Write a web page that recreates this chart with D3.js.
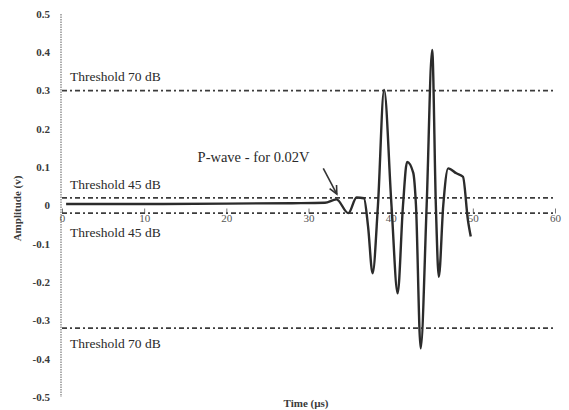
<!DOCTYPE html>
<html>
<head>
<meta charset="utf-8">
<script src="https://cdn.jsdelivr.net/npm/d3@7"></script>
<style>
  html, body { margin: 0; padding: 0; background: #fff; }
  svg { display: block; }
</style>
</head>
<body>
<script>
// Acoustic emission signal: amplitude (V) against time (µs)
const timeUs = [0.5, 10, 20, 28, 32, 33.4, 34.85, 35.85, 36.75, 37.25, 37.8, 38.45, 39.2, 40.1, 40.85, 41.5, 42.0, 42.75, 43.08, 43.65, 44.38, 45.05, 45.5, 45.86, 46.4, 47.0, 48.0, 48.8, 49.4, 49.75];
const amplitudeV = [0.004, 0.004, 0.005, 0.006, 0.007, 0.016, -0.02, 0.021, 0.019, -0.055, -0.177, 0.0, 0.302, 0.0, -0.229, 0.0, 0.114, 0.085, 0.0, -0.373, 0.0, 0.406, 0.0, -0.186, 0.0, 0.097, 0.084, 0.075, -0.038, -0.081];

// Detection thresholds (V)
const threshold70 = [0.3, -0.32];
const threshold45 = [0.02, -0.02];
const thresholdNames = ["Threshold 70 dB", "Threshold 45 dB"];

// Axis ticks
const xTicks = [0, 10, 20, 30, 40, 50, 60];
const yTicks = [0.5, 0.4, 0.3, 0.2, 0.1, 0, -0.1, -0.2, -0.3, -0.4, -0.5];
const yTickLabels = ["0.5", "0.4", "0.3", "0.2", "0.1", "0", "-0.1", "-0.2", "-0.3", "-0.4", "-0.5"];

// P-wave annotation (data coordinates: arrow start -> arrow tip)
const pWaveText = "P-wave - for 0.02V";
const pWaveArrow = [[31.8, 0.097], [33.45, 0.03]];

const W = 569, H = 410;
const svg = d3.select("body").append("svg").attr("width", W).attr("height", H);
svg.append("rect").attr("width", W).attr("height", H).attr("fill", "#fff");

const x = d3.scaleLinear().domain([0, 60]).range([62, 555]);
const y = d3.scaleLinear().domain([-0.5, 0.5]).range([397, 14]);

const serif = "'Liberation Serif', 'Times New Roman', serif";

// Y axis: dotted vertical rule with bold labels
svg.append("line")
  .attr("x1", x(0) - 1).attr("x2", x(0) - 1)
  .attr("y1", y(0.5)).attr("y2", y(-0.5))
  .attr("stroke", "#777").attr("stroke-width", 1.2)
  .attr("stroke-dasharray", "1.5,1");

svg.append("g").selectAll("text").data(yTicks).join("text")
  .attr("x", 50).attr("y", d => y(d))
  .attr("dy", "0.35em")
  .attr("text-anchor", "end")
  .attr("font-family", serif).attr("font-size", 11).attr("font-weight", "bold")
  .attr("fill", "#3a3a3a")
  .text((d, i) => yTickLabels[i]);

// X axis ticks and labels along zero
const xAxis = d3.axisBottom(x).tickValues(xTicks).tickSize(5).tickPadding(5).tickFormat(d3.format("d"));
const gx = svg.append("g").attr("transform", `translate(0,${y(0) + 7})`).call(xAxis);
gx.select(".domain").remove();
gx.selectAll(".tick line").attr("stroke", "#777").attr("transform", "translate(0,-4)");
gx.selectAll(".tick text")
  .attr("font-family", serif).attr("font-size", 11).attr("fill", "#555")
  .attr("dy", "-0.05em");

// Threshold lines (dash-dot)
const thresholdLines = [
  { v: threshold70[0], name: thresholdNames[0], above: true },
  { v: threshold70[1], name: thresholdNames[0], above: false },
  { v: threshold45[0], name: thresholdNames[1], above: true },
  { v: threshold45[1], name: thresholdNames[1], above: false }
];

svg.append("g").selectAll("line").data(thresholdLines).join("line")
  .attr("x1", x(0)).attr("x2", x(60))
  .attr("y1", d => y(d.v)).attr("y2", d => y(d.v))
  .attr("stroke", "#3c3c3c").attr("stroke-width", 1.8)
  .attr("stroke-dasharray", "5,3,2,3");

svg.append("g").selectAll("text").data(thresholdLines).join("text")
  .attr("x", x(0) + 8)
  .attr("y", d => y(d.v) + (d.above ? -14 : (d.v > -0.1 ? 19 : 15)))
  .attr("dy", "0.35em")
  .attr("font-family", serif).attr("font-size", 13.5)
  .attr("fill", "#2a2a2a")
  .text(d => d.name);

// Signal waveform
const line = d3.line()
  .x((d, i) => x(timeUs[i]))
  .y(d => y(d))
  .curve(d3.curveMonotoneX);

svg.append("path")
  .datum(amplitudeV)
  .attr("d", line)
  .attr("fill", "none")
  .attr("stroke", "#2b2b2b")
  .attr("stroke-width", 2.4)
  .attr("stroke-linejoin", "round");

// P-wave annotation
svg.append("text")
  .attr("x", x(16.5)).attr("y", y(0.127))
  .attr("dy", "0.35em")
  .attr("font-family", serif).attr("font-size", 14.5)
  .attr("fill", "#2a2a2a")
  .text(pWaveText);

const [a0, a1] = pWaveArrow.map(p => [x(p[0]), y(p[1])]);
svg.append("line")
  .attr("x1", a0[0]).attr("y1", a0[1]).attr("x2", a1[0]).attr("y2", a1[1])
  .attr("stroke", "#333").attr("stroke-width", 1.6);
const ang = Math.atan2(a1[1] - a0[1], a1[0] - a0[0]);
const headLen = 9, spread = 0.45;
svg.append("path")
  .attr("d", `M${a1[0] - headLen * Math.cos(ang - spread)},${a1[1] - headLen * Math.sin(ang - spread)}L${a1[0]},${a1[1]}L${a1[0] - headLen * Math.cos(ang + spread)},${a1[1] - headLen * Math.sin(ang + spread)}`)
  .attr("fill", "none").attr("stroke", "#333").attr("stroke-width", 1.6);

// Axis titles
svg.append("text")
  .attr("transform", `translate(17,${y(0) + 3}) rotate(-90)`)
  .attr("text-anchor", "middle")
  .attr("dy", "0.35em")
  .attr("font-family", serif).attr("font-size", 11).attr("font-weight", "bold")
  .attr("fill", "#3a3a3a")
  .text("Amplitude (v)");

svg.append("text")
  .attr("x", 306).attr("y", 403)
  .attr("text-anchor", "middle")
  .attr("dy", "0.35em")
  .attr("font-family", serif).attr("font-size", 11).attr("font-weight", "bold")
  .attr("fill", "#3a3a3a")
  .text("Time (µs)");
</script>
</body>
</html>
